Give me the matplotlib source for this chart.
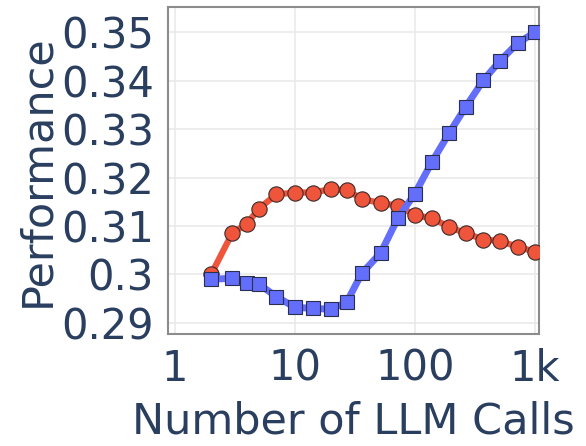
import matplotlib
matplotlib.use("Agg")
import matplotlib.pyplot as plt
from matplotlib.ticker import FixedLocator, NullLocator

# Data
llm_calls = [2, 3, 4, 5, 7, 10, 14, 20, 27, 36, 52, 72, 100, 139, 192, 265, 372, 512, 715, 1000]
perf_red = [0.3000, 0.3085, 0.3105, 0.3136, 0.3165, 0.3169, 0.3169, 0.3176, 0.3174, 0.3156,
            0.3147, 0.3142, 0.3122, 0.3116, 0.3098, 0.3085, 0.3072, 0.3069, 0.3057, 0.3047]
perf_blue = [0.2990, 0.2992, 0.2983, 0.2980, 0.2954, 0.2932, 0.2930, 0.2928, 0.2943, 0.3002,
             0.3045, 0.3116, 0.3167, 0.3233, 0.3291, 0.3346, 0.3401, 0.3441, 0.3477, 0.3500]
x_ticks = [1, 10, 100, 1000]
x_ticklabels = ["1", "10", "100", "1k"]
y_ticks = [0.29, 0.30, 0.31, 0.32, 0.33, 0.34, 0.35]
y_ticklabels = ["0.29", "0.3", "0.31", "0.32", "0.33", "0.34", "0.35"]

TXT = "#2a3f5f"
RED = "#EF553B"
BLUE = "#636EFA"

fig = plt.figure(figsize=(5.86, 4.46), dpi=100)
ax = fig.add_axes([168/586, 1-334/446, (539-168)/586, (334-7)/446])

ax.plot(llm_calls, perf_red, color=RED, lw=4.5, marker="o", ms=11,
        markerfacecolor=RED, markeredgecolor="#3a2a2a", markeredgewidth=0.8, zorder=3,
        solid_capstyle="round")
ax.plot(llm_calls, perf_blue, color=BLUE, lw=5, marker="s", ms=10.5,
        markerfacecolor=BLUE, markeredgecolor="#2a2f4f", markeredgewidth=0.8, zorder=4,
        solid_capstyle="round")

ax.set_xscale("log")
ax.set_xlim(0.875, 1080)
ax.set_ylim(0.2877, 0.3552)

ax.xaxis.set_major_locator(FixedLocator(x_ticks))
ax.xaxis.set_minor_locator(NullLocator())
ax.set_xticklabels(x_ticklabels)
ax.set_yticks(y_ticks)
ax.set_yticklabels(y_ticklabels)

ax.grid(True, color="#e8e8e8", lw=1.1, zorder=0)
ax.set_axisbelow(True)
for s in ax.spines.values():
    s.set_color("#8c8c8c")
    s.set_linewidth(1.5)

ax.tick_params(axis="both", length=0, labelsize=30, labelcolor=TXT)
ax.tick_params(axis="x", pad=10)
ax.tick_params(axis="y", pad=10)
ax.set_xlabel("Number of LLM Calls", fontsize=31, color=TXT, labelpad=8)
ax.set_ylabel("Performance", fontsize=31, color=TXT, labelpad=2)

fig.savefig("out.png", dpi=100)
